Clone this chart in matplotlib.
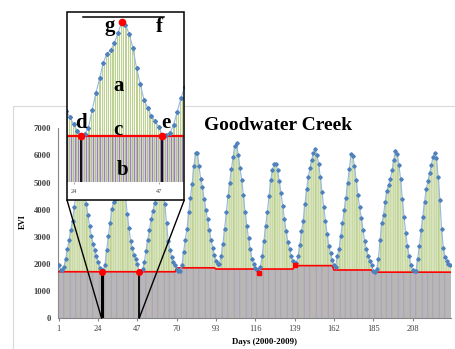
import numpy as np
import matplotlib.pyplot as plt
from matplotlib.patches import Rectangle, ConnectionPatch
from matplotlib.lines import Line2D

plt.rcParams['font.family'] = ['Liberation Serif', 'DejaVu Serif']

# EVI per 16-day composite, one list per growing season
season_a = [1950, 1790, 1790, 1900, 2200, 2550, 2900, 3250, 3600, 4100, 4600, 5150, 5550,
            5700, 5400, 4800, 4200, 3800, 3400, 3050, 2750, 2500, 2300, 2080, 1870, 1715]
season_b = [1770, 1980, 2530, 3050, 3520, 4010, 4300, 4400, 4630, 4950, 5300, 5200,
            4920, 4480, 3840, 3340, 2850, 2600, 2330, 2180, 2000, 1715]
season_c = [1750, 1800, 2060, 2480, 2900, 3250, 3650, 3950, 4250, 4800, 5400, 5800,
            5600, 4900, 4200, 3520, 2850, 2520, 2270, 2080, 1960, 1810, 1740, 1760]
season_d = [1950, 2450, 2900, 3300, 3900, 4450, 4950, 5600, 6080, 6080, 5600, 5150,
            4850, 4400, 4000, 3650, 3270, 2900, 2600, 2330, 2100, 2000, 2010]
season_e = [2300, 2750, 3300, 3900, 4500, 5000, 5500, 5950, 6350, 6450, 6000, 5550,
            5100, 4550, 3900, 3400, 2950, 2550, 2200, 2000, 1850, 1780, 1660]
season_f = [1900, 2300, 2850, 3400, 3900, 4500, 5100, 5450, 5700, 5700, 5450, 5050,
            4600, 4150, 3650, 3200, 2800, 2550, 2300, 2100, 1950]
season_g = [2030, 2300, 2700, 3200, 3600, 4200, 4750, 5200, 5550, 5850, 6100, 6230,
            6000, 5700, 5200, 4650, 4100, 3600, 3100, 2650, 2400, 2150, 1950, 1900]
season_h = [2300, 2550, 3050, 3500, 4000, 4450, 5000, 5500, 6050, 5980, 5600, 5100,
            4550, 4100, 3700, 3250, 2850, 2550, 2300, 2100, 1970, 1750, 1700]
season_i = [1800, 2200, 2900, 3500, 3800, 4300, 4700, 4900, 5150, 5450, 5850, 6150,
            6050, 5650, 5150, 4400, 3750, 3150, 2650, 2300, 1950, 1780, 1750]
season_j = [1760, 2200, 2650, 3250, 3750, 4300, 4750, 5050, 5350, 5650, 5950, 6100,
            5900, 5200, 4350, 3300, 2600, 2250, 2100, 2000, 1980]

evi = np.array(season_a + season_b + season_c + season_d + season_e +
               season_f + season_g + season_h + season_i + season_j)
days = np.arange(1, len(evi) + 1)

# yearly base level (red line): first day of each step and its value
base_start = [1, 70, 93, 139, 162, 185]
base_level = [1715, 1860, 1815, 1940, 1780, 1700]
baseline = np.array(base_level)[np.searchsorted(base_start, days, side='right') - 1]

x_ticks = [1, 24, 47, 70, 93, 116, 139, 162, 185, 208]
y_ticks = list(range(0, 8000, 1000))
d_day, e_day, g_day = 26, 48, 37
min_days = [118, 139]
inset_ticks = [24, 47]

W, H = 456, 349
fig = plt.figure(figsize=(W / 100, H / 100), dpi=100)


def fbox(x0, y0, x1, y1):
    # pixel box (top-left origin) -> figure fraction rect
    return [x0 / W, 1 - y1 / H, (x1 - x0) / W, (y1 - y0) / H]


def ftext(x, y, s, **kw):
    fig.text(x / W, 1 - y / H, s, ha='center', va='center', **kw)


def draw_series(ax, lw, edge):
    ax.bar(days, evi, width=0.5, color='#eef3e0', edgecolor=edge,
           linewidth=lw, zorder=1)
    ax.bar(days, baseline, width=1.0, color='#d3ced8', linewidth=0, zorder=2)
    ax.vlines(days - 0.25, 0, baseline, color='#a8c36e', lw=lw, zorder=3)
    ax.vlines(days + 0.25, 0, baseline, color='#8d75ab', lw=lw, zorder=3)


# outer chart border
fig.add_artist(Rectangle((13 / W, -0.1), (480 - 13) / W, 1 - 106 / H + 0.1,
                         transform=fig.transFigure, fill=False,
                         edgecolor='#d9d9d9', lw=0.8, zorder=0.5))

ax = fig.add_axes(fbox(58, 128.3, 451, 318.3))
draw_series(ax, 0.35, '#a3bf66')
ax.plot(days, baseline, color='#ff0000', lw=1.2, zorder=4)
ax.plot(days, evi, color='#95b8e3', lw=0.8, marker='D', ms=1.8,
        mfc='#4f81bd', mec='#4f81bd', zorder=5)
ax.vlines([d_day], 0, evi[d_day - 1], color='k', lw=2.2, zorder=6)
ax.vlines([e_day], 0, evi[e_day - 1], color='k', lw=1.3, zorder=6)
ax.plot([d_day, e_day], evi[[d_day - 1, e_day - 1]], 'o', color='#ff0000', ms=4, zorder=7)
ax.plot(min_days, evi[np.array(min_days) - 1], 's', color='#ff0000', ms=2.5, zorder=7)

ax.set_xlim(0.5, len(evi) + 0.5)
ax.set_ylim(0, 7000)
ax.set_xticks(x_ticks)
ax.set_yticks(y_ticks)
for s in ['top', 'right']:
    ax.spines[s].set_visible(False)
for s in ['left', 'bottom']:
    ax.spines[s].set_color('#868686')
    ax.spines[s].set_linewidth(0.8)
ax.tick_params(axis='y', length=0, pad=5, labelsize=6.2, labelcolor='#404040')
ax.tick_params(axis='x', length=2, color='#868686', pad=3, labelsize=6,
               labelcolor='#404040')
for t in ax.get_yticklabels():
    t.set_fontweight('bold')
ax.set_xlabel('Days (2000-2009)', fontsize=6.3, fontweight='bold')
ax.xaxis.set_label_coords(0.525, -0.105)
ax.set_ylabel('EVI', fontsize=6, fontweight='bold')
ax.yaxis.set_label_coords(-0.08, 0.51)

ftext(278, 126, 'Goodwater Creek', fontsize=14, fontweight='bold', zorder=5)

# zoom connectors
for fx, dday in [(67, d_day), (184.3, e_day)]:
    fig.add_artist(ConnectionPatch(xyA=(fx / W, 1 - 200 / H), coordsA='figure fraction',
                                   xyB=(dday, 0), coordsB='data', axesB=ax,
                                   color='k', lw=1.0, zorder=1.5))

# inset
fig.add_artist(Rectangle((67 / W, 1 - 200 / H), 117.3 / W, 188 / H,
                         transform=fig.transFigure, facecolor='white',
                         edgecolor='none', zorder=2))
axi = fig.add_axes(fbox(67, 12, 184.3, 181.7), zorder=3)
axi.patch.set_visible(False)
draw_series(axi, 0.6, '#b3cb80')
axi.plot(days, baseline, color='#ff0000', lw=1.6, zorder=4)
axi.plot(days, evi, color='#95b8e3', lw=0.8, marker='D', ms=2,
         mfc='#4f81bd', mec='#4f81bd', zorder=5)
axi.vlines([d_day, e_day], 0, evi[[d_day - 1, e_day - 1]], color='k', lw=1.3, zorder=6)
axi.plot([d_day, e_day, g_day], evi[[d_day - 1, e_day - 1, g_day - 1]], 'o',
         color='#ff0000', ms=4.5, zorder=7, clip_on=False)
axi.set_xlim(22.2, 53.9)
axi.set_ylim(280, 5605)
axi.set_xticks(inset_ticks)
axi.set_yticks([])
for s in axi.spines.values():
    s.set_visible(False)
axi.tick_params(axis='x', length=1.5, color='#a0a0a0', pad=4, labelsize=4.5,
                labelcolor='#404040')
fig.add_artist(Rectangle((67 / W, 1 - 200 / H), 117.3 / W, 188 / H,
                         transform=fig.transFigure, fill=False,
                         edgecolor='k', lw=1.1, zorder=4))
fig.add_artist(Line2D([82.7 / W, 164 / W], [1 - 17.3 / H, 1 - 17.3 / H],
                      transform=fig.transFigure, color='k', lw=1.1, zorder=5))

for ch, x, y in [('g', 110, 26), ('f', 159.5, 27), ('a', 119, 86), ('c', 118, 130),
                 ('b', 122.5, 170), ('d', 81, 123), ('e', 166, 123)]:
    ftext(x, y, ch, fontsize=15, fontweight='bold', zorder=6)

fig.savefig('out.png', dpi=100)
